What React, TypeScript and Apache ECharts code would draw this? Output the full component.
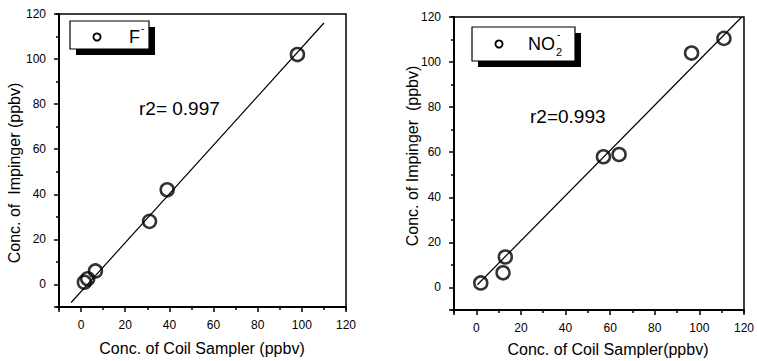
import React, { useEffect, useRef } from "react";
import * as echarts from "echarts";

// F- panel (left)
const fCoil = [1.5, 3, 6.5, 31, 39, 98];
const fImp = [1, 2.5, 6, 28, 42, 102];
const fFitX = [-4.5, 110];
const fFitY = [-8, 116];
const fR2 = "r2= 0.997";

// NO2- panel (right)
const nCoil = [2, 12, 13, 57, 64, 96.5, 111];
const nImp = [2, 6.5, 13.5, 58, 59, 104, 110.5];
const nFitX = [0.5, 119];
const nFitY = [1.2, 120];
const nR2 = "r2=0.993";

const axisMin = -10;
const axisMax = 120;

const FONT = "Arial, 'Liberation Sans', sans-serif";

function pairs(xs: number[], ys: number[]) {
  return xs.map((x, i) => [x, ys[i]]);
}

function mainAxis(gridIndex: number, isX: boolean) {
  return {
    type: "value",
    gridIndex,
    position: isX ? "bottom" : "left",
    min: axisMin,
    max: axisMax,
    splitNumber: 6,
    axisLine: { show: true, onZero: false, lineStyle: { color: "#000", width: 2 } },
    axisTick: { show: true, inside: false, length: 5, lineStyle: { color: "#000", width: 1.5 } },
    axisLabel: {
      show: true,
      margin: isX ? 12 : 13,
      color: "#000",
      fontSize: 12,
      fontFamily: FONT,
      formatter: (v: number) => (v % 20 === 0 ? String(v) : ""),
    },
    splitLine: { show: false },
  };
}

function minorAxis(gridIndex: number, isX: boolean) {
  return {
    type: "value",
    gridIndex,
    position: isX ? "bottom" : "left",
    min: axisMin,
    max: axisMax,
    interval: 20,
    axisLine: { show: false, onZero: false },
    axisTick: { show: true, inside: false, length: 3, lineStyle: { color: "#000", width: 1.5 } },
    axisLabel: { show: false },
    splitLine: { show: false },
  };
}

function scatter(name: string, idx: number, xs: number[], ys: number[]) {
  return {
    name,
    type: "scatter",
    xAxisIndex: idx,
    yAxisIndex: idx,
    data: pairs(xs, ys),
    symbol: "circle",
    symbolSize: 13,
    itemStyle: { color: "rgba(255,255,255,0)", borderColor: "#000", borderWidth: 2.5 },
    z: 5,
  };
}

function fit(idx: number, xs: number[], ys: number[]) {
  return {
    type: "line",
    xAxisIndex: idx,
    yAxisIndex: idx,
    data: pairs(xs, ys),
    symbol: "none",
    lineStyle: { color: "#000", width: 1.2 },
    z: 4,
  };
}

function legendBox(x: number, y: number, w: number, h: number, cx: number, cy: number, children: any[]) {
  return [
    { type: "rect", shape: { x: x + 6, y: y + 6, width: w, height: h }, style: { fill: "#000" }, z: 10 },
    { type: "rect", shape: { x, y, width: w, height: h }, style: { fill: "#fff", stroke: "#000", lineWidth: 1.2 }, z: 11 },
    { type: "circle", shape: { cx, cy, r: 3.6 }, style: { fill: "#fff", stroke: "#000", lineWidth: 1.8 }, z: 12 },
    ...children,
  ];
}

function txt(text: string, x: number, y: number, size: number, extra: any = {}) {
  return {
    type: "text",
    x,
    y,
    z: 12,
    ...extra,
    style: {
      text,
      fill: "#000",
      fontSize: size,
      fontFamily: FONT,
      align: extra.align || "left",
      verticalAlign: extra.verticalAlign || "middle",
    },
  };
}

export default function App() {
  const ref = useRef<HTMLDivElement>(null);
  useEffect(() => {
    if (!ref.current) return;
    const chart = echarts.init(ref.current, undefined, { renderer: "svg" });
    const option: any = {
      animation: false,
      backgroundColor: "#fff",
      grid: [
        { left: 59, top: 14, width: 287, height: 293, show: true, borderColor: "#000", borderWidth: 1.5, backgroundColor: "transparent" },
        { left: 454, top: 17, width: 290, height: 293, show: true, borderColor: "#000", borderWidth: 1.5, backgroundColor: "transparent" },
      ],
      xAxis: [mainAxis(0, true), mainAxis(1, true), minorAxis(0, true), minorAxis(1, true)],
      yAxis: [mainAxis(0, false), mainAxis(1, false), minorAxis(0, false), minorAxis(1, false)],
      series: [
        scatter("F-", 0, fCoil, fImp),
        fit(0, fFitX, fFitY),
        scatter("NO2-", 1, nCoil, nImp),
        fit(1, nFitX, nFitY),
      ],
      graphic: [
        ...legendBox(70, 21, 79, 28, 97, 37, [
          txt("F", 129, 37, 18),
          txt("-", 141, 28, 10),
        ]),
        ...legendBox(472, 27, 103, 34, 499, 44, [
          txt("NO", 528, 44, 18),
          txt("2", 556, 52, 11),
          txt("-", 557, 34, 10),
        ]),
        txt(fR2, 139, 108, 19),
        txt(nR2, 530, 116, 19),
        txt("Conc. of Coil Sampler (ppbv)", 202, 348, 16, { align: "center" }),
        txt("Conc. of Coil Sampler(ppbv)", 608, 349, 16, { align: "center" }),
        txt("Conc. of  Impinger (ppbv)", 14, 173, 16, { align: "center", rotation: Math.PI / 2 }),
        txt("Conc. of Impinger  (ppbv)", 412, 156, 16, { align: "center", rotation: Math.PI / 2 }),
      ],
    };
    chart.setOption(option);
    return () => chart.dispose();
  }, []);
  return <div ref={ref} style={{ width: 757, height: 361, position: "absolute", left: 0, top: 0 }} />;
}
